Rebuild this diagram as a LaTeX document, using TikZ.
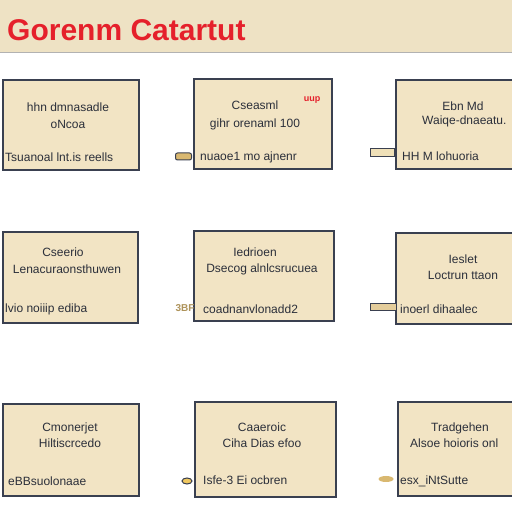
\documentclass[tikz,border=0pt]{standalone}
\usepackage{fontspec}
\setmainfont{Liberation Sans}
\usetikzlibrary{shapes.geometric}
\definecolor{hdr}{HTML}{EEE2C4}
\definecolor{boxfill}{HTML}{F2E4C4}
\definecolor{boxline}{HTML}{3A4050}
\definecolor{txt}{HTML}{2B2F3A}
\definecolor{titlered}{HTML}{E5202B}
\definecolor{tan}{HTML}{D9B870}
\definecolor{paletan}{HTML}{EFE0B8}
\definecolor{gold}{HTML}{F0C860}
\begin{document}
\begin{tikzpicture}[x=1pt,y=1pt,
  card/.style={draw=boxline,line width=1.5pt,fill=boxfill},
  ltext/.style={text=txt,font=\fontsize{12}{14}\selectfont,inner sep=0pt},
  lleft/.style={ltext,anchor=west},
  stub/.style={draw=boxline,line width=1pt,inner sep=0pt}]
\useasboundingbox (0,0) rectangle (512,512);
\fill[white] (0,0) rectangle (512,512);
% header
\fill[hdr] (0,459) rectangle (512,512);
\draw[gray!60,line width=1pt] (0,459) -- (512,459);
\node[anchor=west,text=titlered,font=\bfseries\fontsize{30}{30}\selectfont,inner sep=0pt] (title) at (7,482) {Gorenm Catartut};
% cards (px y -> 512-y)
\draw[card] (3,432) rectangle (139,342);
\draw[card] (194,433) rectangle (332,343);
\draw[card] (396,432) rectangle (514,343);
\draw[card] (3,280) rectangle (138,189);
\draw[card] (194,281) rectangle (334,191);
\draw[card] (396,279) rectangle (514,188);
\draw[card] (3,108) rectangle (139,16);
\draw[card] (195,110) rectangle (336,15);
\draw[card] (398,110) rectangle (514,16);
% box 1
\node[ltext] (t1a) at (68,405) {hhn dmnasadle};
\node[ltext] (t1b) at (68,388) {oNcoa};
\node[lleft] (t1c) at (5,355) {Tsuanoal lnt.is reells};
% box 2
\node[text=titlered,font=\bfseries\fontsize{9}{9}\selectfont,inner sep=0pt] (t2r) at (312,412) {uup};
\node[ltext] (t2a) at (255,407) {Cseasml};
\node[ltext] (t2b) at (255,388) {gihr orenaml 100};
\node[lleft] (t2c) at (200,355) {nuaoe1 mo ajnenr};
\node[stub,fill=tan,rounded corners=2pt,minimum width=16pt,minimum height=7pt] (s2) at (183.5,355.5) {};
% box 3
\node[ltext] (t3a) at (463,406) {Ebn Md};
\node[ltext,anchor=west] (t3b) at (422,391) {Waiqe-dnaeatu.};
\node[lleft] (t3c) at (402,356) {HH M lohuoria};
\node[stub,fill=paletan,minimum width=24pt,minimum height=8pt] (s3) at (382,359) {};
% box 4
\node[ltext] (t4a) at (63,260) {Cseerio};
\node[ltext] (t4b) at (67,243) {Lenacuraonsthuwen};
\node[lleft] (t4c) at (5,203) {lvio noiiip ediba};
% box 5
\node[ltext] (t5a) at (255,260) {Iedrioen};
\node[ltext] (t5b) at (262,243) {Dsecog alnlcsrucuea};
\node[lleft] (t5c) at (203,203) {coadnanvlonadd2};
\node[text=tan!80!black,font=\bfseries\fontsize{10}{10}\selectfont,inner sep=0pt] (s5) at (185,204) {3BF};
% box 6
\node[ltext] (t6a) at (463,253) {Ieslet};
\node[ltext] (t6b) at (463,237) {Loctrun ttaon};
\node[lleft] (t6c) at (400,203) {inoerl dihaalec};
\node[stub,fill=tan!70,minimum width=26pt,minimum height=7pt] (s6) at (383,204.5) {};
% box 7
\node[ltext] (t7a) at (70,84) {Cmonerjet};
\node[ltext] (t7b) at (70,69) {Hiltiscrcedo};
\node[lleft] (t7c) at (8,31) {eBBsuolonaae};
% box 8
\node[ltext] (t8a) at (262,85) {Caaeroic};
\node[ltext] (t8b) at (262,69) {Ciha Dias efoo};
\node[lleft] (t8c) at (203,32) {Isfe-3 Ei ocbren};
\node[stub,ellipse,fill=gold,minimum width=10pt,minimum height=6pt] (s8) at (187,31) {};
% box 9
\node[ltext] (t9a) at (460,84) {Tradgehen};
\node[ltext,anchor=west] (t9b) at (410,69) {Alsoe hoioris onl};
\node[lleft] (t9c) at (400,31) {esx\_iNtSutte};
\node[ellipse,fill=tan,inner sep=0pt,minimum width=15pt,minimum height=6pt] (s9) at (386,33) {};
\end{tikzpicture}
\end{document}
